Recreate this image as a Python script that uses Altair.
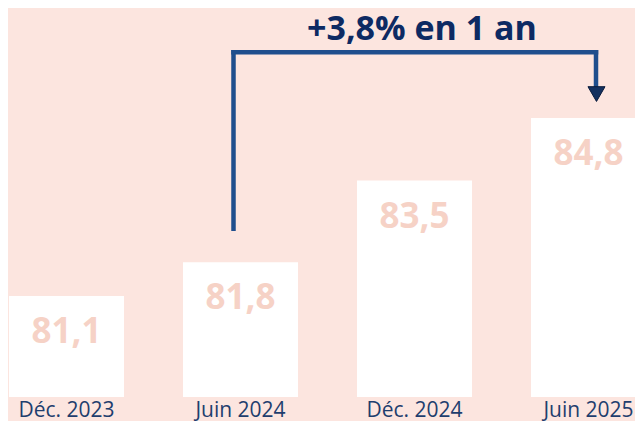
import altair as alt
import pandas as pd

# --- data ---
periods = ["Déc. 2023", "Juin 2024", "Déc. 2024", "Juin 2025"]
values = [81.1, 81.8, 83.5, 84.8]
value_labels = ["81,1", "81,8", "83,5", "84,8"]

# annotation (data space)
ann_text = "+3,8% en 1 an"
ann_from = "Juin 2024"
ann_to = "Juin 2025"
ann_mid = "Déc. 2024"
ann_low = 82.5
ann_high = 86.17
ann_arrow_end = 85.47
ann_arrow_tip = 85.30
ann_text_y = 86.42

y_min, y_max = 79.0, 87.09

BG = "#fce5df"
LABEL = "#f6d2c6"
LINE = "#1f4e8d"
NAVY = "#0d2a63"
AXIS = "#1f3e6e"
FONT = "Open Sans"

df = pd.DataFrame({"period": periods, "value": values, "label": value_labels})

x_scale = alt.Scale(domain=periods, range=[1, 638], paddingInner=0.339, paddingOuter=0)
y_scale = alt.Scale(domain=[y_min, y_max], zero=False, nice=False)

x_enc = alt.X("period:N", scale=x_scale, sort=periods,
              axis=alt.Axis(title=None, labelAngle=0, domain=False, ticks=False, tickSize=0,
                            labelFont=FONT, labelFontSize=21, labelColor=AXIS,
                            labelPadding=19, labelBaseline="alphabetic", grid=False))
y_enc = alt.Y("value:Q", scale=y_scale, axis=None)

bars = alt.Chart(df).mark_bar(color="white").encode(
    x=x_enc, y=y_enc, y2=alt.datum(y_min)
)

labels = alt.Chart(df).mark_text(
    font=FONT, fontSize=35, fontWeight="bold", color=LABEL,
    baseline="alphabetic", dy=47
).encode(x=alt.X("period:N", scale=x_scale, sort=periods), y=alt.Y("value:Q", scale=y_scale), text="label:N")

left_df = pd.DataFrame({"p": [ann_from], "y1": [ann_low], "y2": [ann_high]})
top_df = pd.DataFrame({"p1": [ann_from], "p2": [ann_to], "y": [ann_high]})
right_df = pd.DataFrame({"p": [ann_to], "y1": [ann_high], "y2": [ann_arrow_end]})
tip_df = pd.DataFrame({"p": [ann_to], "y": [ann_arrow_tip]})
txt_df = pd.DataFrame({"p": [ann_mid], "y": [ann_text_y], "t": [ann_text]})

xs = lambda f: alt.X(f, type="nominal", scale=x_scale, sort=periods)
ys = lambda f: alt.Y(f, type="quantitative", scale=y_scale)

left = alt.Chart(left_df).mark_rule(color=LINE, strokeWidth=4.5, xOffset=-7, strokeCap="square").encode(
    x=xs("p"), y=ys("y1"), y2="y2:Q")
top = alt.Chart(top_df).mark_rule(color=LINE, strokeWidth=4.5, xOffset=-7, x2Offset=7.5, strokeCap="square").encode(
    x=xs("p1"), x2="p2:N", y=ys("y"))
right = alt.Chart(right_df).mark_rule(color=LINE, strokeWidth=4.5, xOffset=7.5, strokeCap="square").encode(
    x=xs("p"), y=ys("y1"), y2="y2:Q")
tip = alt.Chart(tip_df).mark_point(shape="triangle-down", size=290, filled=True, fill="#14315f",
                                   stroke="#0a1c3c", strokeWidth=1, opacity=1, xOffset=8).encode(
    x=xs("p"), y=ys("y"))
title = alt.Chart(txt_df).mark_text(font=FONT, fontSize=34, fontWeight="bold", color=NAVY,
                                    baseline="alphabetic", dx=7.5).encode(
    x=xs("p"), y=ys("y"), text="t:N")

chart = alt.layer(bars, labels, left, top, right, tip, title).properties(
    width=627, height=389,
    autosize=alt.AutoSizeParams(type="none"),
    padding={"left": 0, "right": 0, "top": 0, "bottom": 24},
    background=BG,
).configure_view(stroke=None)

chart.save("out.html", embed_options={"renderer": "svg", "actions": False})
